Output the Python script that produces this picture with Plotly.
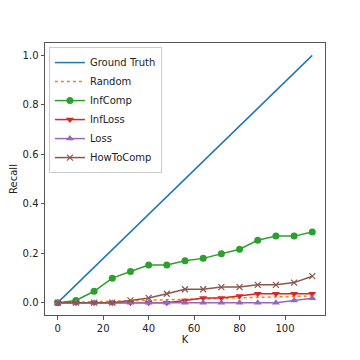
import plotly.graph_objects as go

K = [0, 8, 16, 24, 32, 40, 48, 56, 64, 72, 80, 88, 96, 104, 112]
ground_truth_x = [0, 112]
ground_truth_y = [0.0, 1.0]
random_y = [0.0, 0.002, 0.004, 0.006, 0.008, 0.01, 0.012, 0.014, 0.016, 0.018, 0.019, 0.021, 0.023, 0.025, 0.027]
infcomp = [0.0, 0.009, 0.046, 0.099, 0.126, 0.152, 0.152, 0.169, 0.179, 0.198, 0.216, 0.252, 0.269, 0.269, 0.286]
infloss = [0.0, 0.0, 0.0, 0.0, 0.0, 0.0, 0.0, 0.009, 0.019, 0.019, 0.027, 0.036, 0.036, 0.036, 0.036]
loss = [0.0, 0.0, 0.0, 0.0, 0.0, 0.0, 0.0, 0.0, 0.0, 0.0, 0.0, 0.0, 0.0, 0.009, 0.018]
howtocomp = [0.0, 0.0, 0.0, 0.0, 0.009, 0.019, 0.036, 0.054, 0.054, 0.063, 0.063, 0.072, 0.072, 0.081, 0.107]

fig = go.Figure()
fig.add_trace(go.Scatter(x=ground_truth_x, y=ground_truth_y, mode="lines", name="Ground Truth",
                         line=dict(color="#1f77b4", width=1.5)))
fig.add_trace(go.Scatter(x=K, y=random_y, mode="lines", name="Random",
                         line=dict(color="#ff7f0e", width=1.5, dash="dot")))
fig.add_trace(go.Scatter(x=K, y=infcomp, mode="lines+markers", name="InfComp",
                         line=dict(color="#2ca02c", width=1.5), marker=dict(symbol="circle", size=7)))
fig.add_trace(go.Scatter(x=K, y=infloss, mode="lines+markers", name="InfLoss",
                         line=dict(color="#d62728", width=1.5), marker=dict(symbol="triangle-down", size=7)))
fig.add_trace(go.Scatter(x=K, y=loss, mode="lines+markers", name="Loss",
                         line=dict(color="#9467bd", width=1.5), marker=dict(symbol="triangle-up", size=7)))
fig.add_trace(go.Scatter(x=K, y=howtocomp, mode="lines+markers", name="HowToComp",
                         line=dict(color="#8c564b", width=1.5), marker=dict(symbol="x-thin", size=6, line=dict(color="#8c564b", width=1.2))))

axis_common = dict(showgrid=False, zeroline=False, showline=True, linecolor="#555", linewidth=1,
                   mirror=True, ticks="outside", ticklen=3.5, tickwidth=1, tickcolor="#555",
                   tickfont=dict(size=10, color="#222"), automargin=False)
fig.update_layout(
    width=352, height=352,
    margin=dict(l=37, r=35, t=35, b=45),
    paper_bgcolor="white", plot_bgcolor="white",
    font=dict(family="DejaVu Sans", size=10, color="#222"),
    xaxis=dict(range=[-5.6, 117.6], tickvals=[0, 20, 40, 60, 80, 100],
               title=dict(text="K", font=dict(size=10), standoff=0), **axis_common),
    yaxis=dict(range=[-0.05, 1.05], tickvals=[0, 0.2, 0.4, 0.6, 0.8, 1.0], tickformat=".1f",
               title=dict(text="Recall", font=dict(size=10), standoff=6), **axis_common),
    legend=dict(x=0.014, y=0.985, xanchor="left", yanchor="top", bgcolor="rgba(255,255,255,0.8)",
                bordercolor="#ccc", borderwidth=1, font=dict(size=10), tracegroupgap=0,
                itemwidth=30),
    showlegend=True,
)
fig.write_html("out.html")
